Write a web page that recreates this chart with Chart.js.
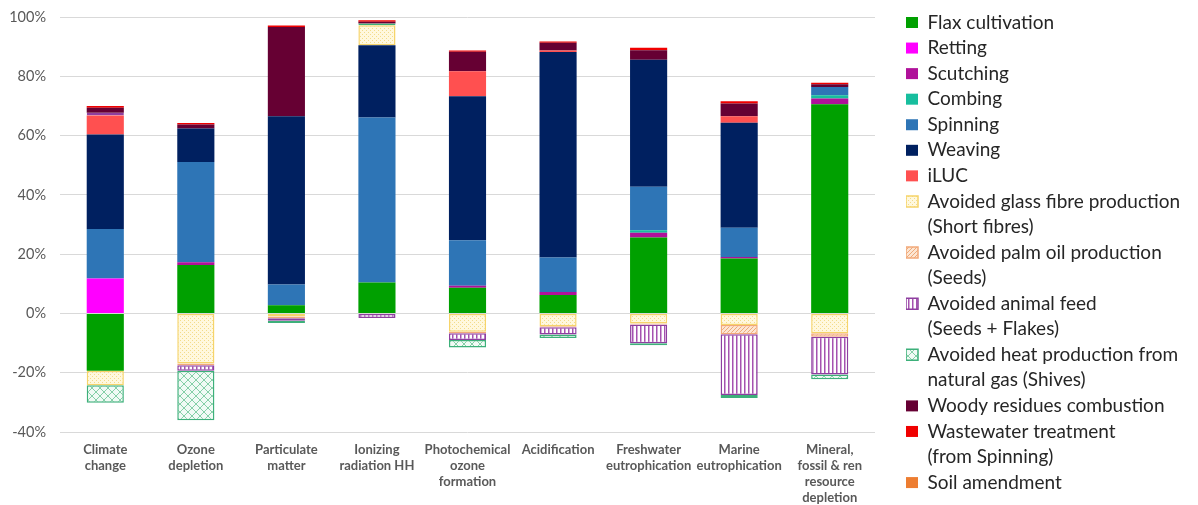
<!DOCTYPE html>
<html>
<head>
<meta charset="utf-8">
<script src="https://cdn.jsdelivr.net/npm/chart.js@4.4.1/dist/chart.umd.min.js"></script>
<style>
  html, body { margin: 0; padding: 0; background: #ffffff; }
  #wrap { width: 1198px; height: 505px; }
</style>
</head>
<body>
<div id="wrap"><canvas id="c" width="1198" height="505"></canvas></div>
<script>
// ---------- data (percent) ----------
const categories = [
  ["Climate", "change"],
  ["Ozone", "depletion"],
  ["Particulate", "matter"],
  ["Ionizing", "radiation HH"],
  ["Photochemical", "ozone", "formation"],
  ["Acidification"],
  ["Freshwater", "eutrophication"],
  ["Marine", "eutrophication"],
  ["Mineral,", "fossil & ren", "resource", "depletion"]
];
const flaxCultivation   = [-19.3, 16.3,  2.8, 10.4,  8.7,  6.2, 25.6, 18.5, 70.6];
const retting           = [ 11.8,  0,    0,    0,    0,    0,    0,    0,    0  ];
const scutching         = [  0,    1.0,  0,    0,    0.6,  1.0,  1.6,  0.5,  1.9];
const combing           = [  0,    0,    0,    0,    0,    0,    0.9,  0,    1.1];
const spinning          = [ 16.7, 33.8,  7.0, 55.7, 15.4, 11.7, 14.6,  9.9,  2.8];
const weaving           = [ 31.9, 11.3, 56.7, 24.4, 48.6, 69.3, 42.9, 35.4,  0  ];
const iLUC              = [  6.4,  0,    0,    0,    8.4,  0.5,  0,    2.2,  0  ];
const avoidedGlassFibre = [ -4.9,-16.9, -1.0,  6.7, -6.2, -4.3, -3.4, -3.9, -6.7];
const avoidedPalmOil    = [  0,   -0.6, -0.6,  0,   -0.5, -0.4, -0.3, -3.1, -1.2];
const avoidedAnimalFeed = [  0.9, -1.8, -0.9, -1.5, -2.3, -2.4, -6.4,-20.5,-12.7];
const avoidedHeat       = [ -5.9,-16.7, -0.7,  0.6, -2.5, -1.2, -0.6, -1.0, -1.6];
const woodyResidues     = [  1.7,  1.3, 30.1,  0.6,  6.6,  2.6,  3.2,  4.3,  0.9];
const wastewater        = [  0.6,  0.5,  0.5,  0.5,  0.4,  0.4,  0.8,  0.8,  0.5];
const soilAmendment     = [  0,    0,    0,    0,    0,    0,    0,    0,    0  ];
const yTicks = [-40, -20, 0, 20, 40, 60, 80, 100];

const legendLines = [
  ["Flax cultivation"],
  ["Retting"],
  ["Scutching"],
  ["Combing"],
  ["Spinning"],
  ["Weaving"],
  ["iLUC"],
  ["Avoided glass fibre production", "(Short fibres)"],
  ["Avoided palm oil production", "(Seeds)"],
  ["Avoided animal feed", "(Seeds + Flakes)"],
  ["Avoided heat production from", "natural gas (Shives)"],
  ["Woody residues combustion"],
  ["Wastewater treatment", "(from Spinning)"],
  ["Soil amendment"]
];

// ---------- patterns ----------
function makePattern(size, draw) {
  const c = document.createElement('canvas');
  c.width = size; c.height = size;
  const g = c.getContext('2d');
  draw(g, size);
  return g.createPattern(c, 'repeat');
}
const glassPattern = makePattern(4, (g, s) => {
  g.fillStyle = '#FFF8DE'; g.fillRect(0, 0, s, s);
  g.fillStyle = '#F3DC8A'; g.fillRect(0, 0, 1, 1); g.fillRect(2, 2, 1, 1);
});
const palmPattern = makePattern(4, (g, s) => {
  g.fillStyle = '#FCE6D3'; g.fillRect(0, 0, s, s);
  g.strokeStyle = '#EFA979'; g.lineWidth = 1;
  g.beginPath(); g.moveTo(0, s); g.lineTo(s, 0); g.stroke();
  g.beginPath(); g.moveTo(-1, 1); g.lineTo(1, -1); g.stroke();
  g.beginPath(); g.moveTo(s - 1, s + 1); g.lineTo(s + 1, s - 1); g.stroke();
});
const feedPattern = makePattern(4, (g, s) => {
  g.fillStyle = '#FFFFFF'; g.fillRect(0, 0, s, s);
  g.fillStyle = '#A552B0'; g.fillRect(0, 0, 1.5, s);
});
const heatPattern = makePattern(8, (g, s) => {
  g.fillStyle = '#F1FAF5'; g.fillRect(0, 0, s, s);
  g.strokeStyle = '#86CFA8'; g.lineWidth = 1;
  g.beginPath(); g.moveTo(0, 0); g.lineTo(s, s); g.stroke();
  g.beginPath(); g.moveTo(0, s); g.lineTo(s, 0); g.stroke();
});

function ds(label, data, bg, border, bw) {
  return {
    label: label, data: data, backgroundColor: bg,
    borderColor: border || bg, borderWidth: bw || 0, borderSkipped: false,
    stack: 's', categoryPercentage: 1.0, barPercentage: 0.41
  };
}

const datasets = [
  ds("Flax cultivation", flaxCultivation, '#00A000'),
  ds("Retting", retting, '#FF00FF'),
  ds("Scutching", scutching, '#B0119A'),
  ds("Combing", combing, '#17BE9E'),
  ds("Spinning", spinning, '#2E75B6'),
  ds("Weaving", weaving, '#002060'),
  ds("iLUC", iLUC, '#FF5050'),
  ds("Avoided glass fibre production (Short fibres)", avoidedGlassFibre, glassPattern, '#F6D46A', 1.5),
  ds("Avoided palm oil production (Seeds)", avoidedPalmOil, palmPattern, '#F2A97A', 1.5),
  ds("Avoided animal feed (Seeds + Flakes)", avoidedAnimalFeed, feedPattern, '#8E3FA0', 1.5),
  ds("Avoided heat production from natural gas (Shives)", avoidedHeat, heatPattern, '#3DB07A', 1.5),
  ds("Woody residues combustion", woodyResidues, '#660033'),
  ds("Wastewater treatment (from Spinning)", wastewater, '#F00000'),
  ds("Soil amendment", soilAmendment, '#ED7D31')
];

// ---------- layout helpers ----------
const W = 1198;
const PLOT_RIGHT = 875;
const LEGEND_LEFT = 906;
const LEG_FONT = 19;
const LEG_BOX_W = 12;
// natural legend width, computed the same way Chart.js does (longest line by characters)
const mc = document.createElement('canvas').getContext('2d');
mc.font = LEG_FONT + 'px Lato';
let longest = '';
legendLines.forEach(lines => lines.forEach(t => { if (t.length > longest.length) longest = t; }));
const legendNaturalW = LEG_BOX_W + LEG_FONT / 2 + mc.measureText(longest).width + 10;
const PAD_RIGHT = Math.max(0, W - LEGEND_LEFT - legendNaturalW);

new Chart(document.getElementById('c'), {
  type: 'bar',
  data: { labels: categories, datasets: datasets },
  options: {
    responsive: false,
    animation: false,
    layout: { padding: { top: 13, left: 0, right: PAD_RIGHT, bottom: 0 } },
    plugins: {
      tooltip: { enabled: false },
      legend: {
        position: 'right',
        align: 'start',
        maxWidth: 400,
        labels: {
          boxWidth: LEG_BOX_W,
          boxHeight: 11,
          padding: 0,
          color: '#262626',
          font: { family: 'Lato', size: LEG_FONT, lineHeight: 25.56 / LEG_FONT },
          generateLabels: (chart) => {
            const items = Chart.defaults.plugins.legend.labels.generateLabels(chart);
            items.forEach((it, i) => { it.text = legendLines[i]; });
            return items;
          }
        }
      }
    },
    scales: {
      x: {
        stacked: true,
        grid: { display: false, drawTicks: false },
        border: { display: false },
        ticks: {
          autoSkip: false, maxRotation: 0, minRotation: 0, padding: 10,
          color: '#595959',
          font: { family: 'Lato', size: 13, weight: 'bold', lineHeight: 1.23 }
        },
        afterFit: (s) => { s.height = 73; }
      },
      y: {
        stacked: true,
        min: -40, max: 100,
        afterBuildTicks: (s) => { s.ticks = yTicks.map(v => ({ value: v })); },
        grid: { color: '#D9D9D9', lineWidth: 1, drawTicks: false },
        border: { display: false },
        ticks: {
          padding: 14,
          color: '#595959',
          font: { family: 'Lato', size: 14.5 },
          callback: (v) => v + '%'
        },
        afterFit: (s) => { s.width = 60; s.paddingTop = 17; }
      },
      gap: {
        type: 'linear',
        position: 'right',
        display: true,
        grid: { display: false, drawTicks: false },
        border: { display: false },
        ticks: { display: false },
        afterFit: (s) => {
          const lw = (s.chart.legend && s.chart.legend.width) ? s.chart.legend.width : legendNaturalW;
          s.width = Math.max(0, W - PAD_RIGHT - lw - PLOT_RIGHT);
        }
      }
    }
  }
});
</script>
</body>
</html>
